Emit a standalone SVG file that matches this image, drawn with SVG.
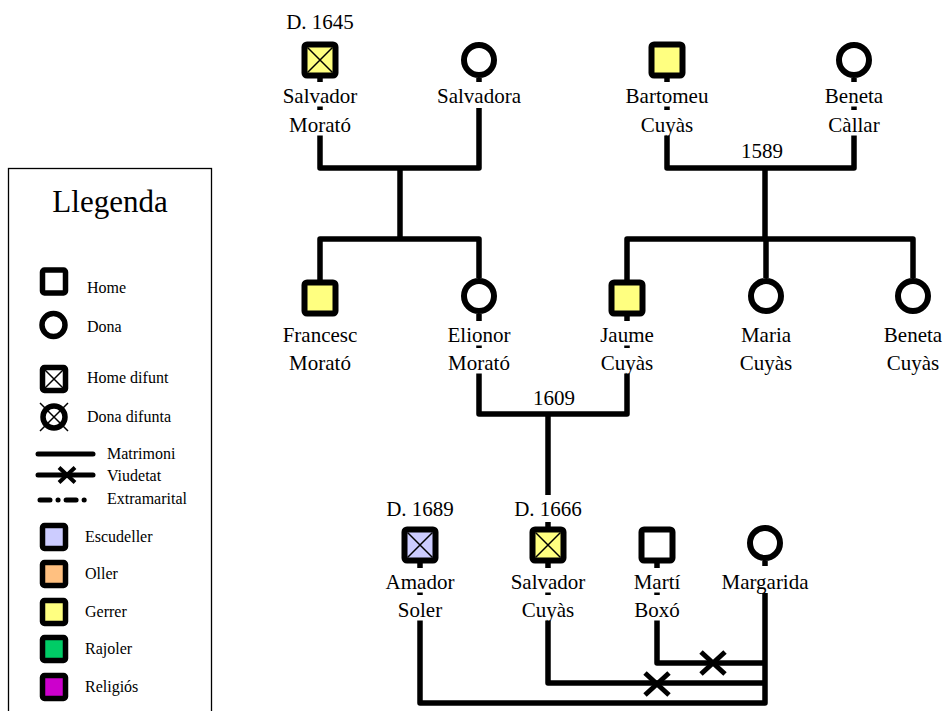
<svg xmlns="http://www.w3.org/2000/svg" width="949" height="711" viewBox="0 0 949 711">
<style>
.ln{fill:none;stroke:#000;stroke-width:5.5;stroke-linejoin:round}
.xm{stroke:#000;stroke-width:5;stroke-linecap:butt}
.sh{stroke:#000;stroke-width:6}
.lsh{stroke:#000;stroke-width:5.5}
.xt{stroke:#000;stroke-width:1.5}
.bg{fill:#fff}
.nm{font-family:"Liberation Serif","Times New Roman",serif;font-size:21px;text-anchor:middle;fill:#000}
.lg{font-family:"Liberation Serif","Times New Roman",serif;font-size:16px;fill:#000}
.y{fill:#FFFF80}
.w{fill:#fff}
.lav{fill:#CCCCFF}
</style>
<rect x="0" y="0" width="949" height="711" fill="#fff"/>

<g id="connectors">
<path class="ln" d="M320,78 V168 H479 V78"/>
<path class="ln" d="M400,168 V239"/>
<path class="ln" d="M320,280 V239 H479 V278"/>
<path class="ln" d="M667,78 V168 H854 V78"/>
<path class="ln" d="M765,168 V239"/>
<path class="ln" d="M627,280 V239 H913 V278"/>
<path class="ln" d="M766,239 V278"/>
<path class="ln" d="M479,314 V414 H627 V316"/>
<path class="ln" d="M548,414 V527"/>
<path class="ln" d="M420,563 V703 H765 V561"/>
<path class="ln" d="M548,563 V683 H765"/>
<path class="ln" d="M657,563 V663 H765"/>
<path class="xm" d="M701,652 L725,674 M725,652 L701,674"/>
<path class="xm" d="M645,673 L669,695 M669,673 L645,695"/>
<text class="nm" x="762" y="158">1589</text>
<text class="nm" x="554" y="405">1609</text>
</g>

<g id="salvador-morato">
<text class="nm" x="320" y="29">D. 1645</text>
<rect class="sh y" x="304.5" y="44.5" width="31" height="31" rx="2.5"/>
<path class="xt" d="M307.5,47.5 L332.5,72.5 M332.5,47.5 L307.5,72.5"/>
<rect class="bg" x="313" y="82" width="14" height="24.5"/>
<rect class="bg" x="313" y="110" width="14" height="25.5"/>
<text class="nm" x="320" y="103">Salvador</text>
<text class="nm" x="320" y="132">Morató</text>
</g>

<g id="salvadora">
<circle class="sh w" cx="479" cy="60" r="15"/>
<rect class="bg" x="472" y="82" width="14" height="26"/>
<text class="nm" x="479" y="103">Salvadora</text>
</g>

<g id="bartomeu-cuyas">
<rect class="sh y" x="651.5" y="44.5" width="31" height="31" rx="2.5"/>
<rect class="bg" x="660" y="82" width="14" height="24.5"/>
<rect class="bg" x="660" y="110" width="14" height="25.5"/>
<text class="nm" x="667" y="103">Bartomeu</text>
<text class="nm" x="667" y="132">Cuyàs</text>
</g>

<g id="beneta-callar">
<circle class="sh w" cx="854" cy="60" r="15"/>
<rect class="bg" x="847" y="82" width="14" height="24.5"/>
<rect class="bg" x="847" y="110" width="14" height="25.5"/>
<text class="nm" x="854" y="103">Beneta</text>
<text class="nm" x="854" y="132">Càllar</text>
</g>

<g id="francesc-morato">
<rect class="sh y" x="304.5" y="282.5" width="31" height="31" rx="2.5"/>
<text class="nm" x="320" y="342">Francesc</text>
<text class="nm" x="320" y="370">Morató</text>
</g>

<g id="elionor-morato">
<circle class="sh w" cx="479" cy="296" r="15"/>
<rect class="bg" x="472" y="321" width="14" height="24.5"/>
<rect class="bg" x="472" y="348" width="14" height="25.5"/>
<text class="nm" x="479" y="342">Elionor</text>
<text class="nm" x="479" y="370">Morató</text>
</g>

<g id="jaume-cuyas">
<rect class="sh y" x="611.5" y="282.5" width="31" height="31" rx="2.5"/>
<rect class="bg" x="620" y="321" width="14" height="24.5"/>
<rect class="bg" x="620" y="348" width="14" height="25.5"/>
<text class="nm" x="627" y="342">Jaume</text>
<text class="nm" x="627" y="370">Cuyàs</text>
</g>

<g id="maria-cuyas">
<circle class="sh w" cx="766" cy="296" r="15"/>
<text class="nm" x="766" y="342">Maria</text>
<text class="nm" x="766" y="370">Cuyàs</text>
</g>

<g id="beneta-cuyas">
<circle class="sh w" cx="913" cy="296" r="15"/>
<text class="nm" x="913" y="342">Beneta</text>
<text class="nm" x="913" y="370">Cuyàs</text>
</g>

<g id="amador-soler">
<text class="nm" x="420" y="516">D. 1689</text>
<rect class="sh lav" x="404.5" y="529.5" width="31" height="31" rx="2.5"/>
<path class="xt" d="M407.5,532.5 L432.5,557.5 M432.5,532.5 L407.5,557.5"/>
<rect class="bg" x="413" y="568" width="14" height="24.5"/>
<rect class="bg" x="413" y="595" width="14" height="25.5"/>
<text class="nm" x="420" y="589">Amador</text>
<text class="nm" x="420" y="617">Soler</text>
</g>

<g id="salvador-cuyas">
<rect class="bg" x="541" y="495" width="14" height="27"/>
<text class="nm" x="548" y="516">D. 1666</text>
<rect class="sh y" x="532.5" y="529.5" width="31" height="31" rx="2.5"/>
<path class="xt" d="M535.5,532.5 L560.5,557.5 M560.5,532.5 L535.5,557.5"/>
<rect class="bg" x="541" y="568" width="14" height="24.5"/>
<rect class="bg" x="541" y="595" width="14" height="25.5"/>
<text class="nm" x="548" y="589">Salvador</text>
<text class="nm" x="548" y="617">Cuyàs</text>
</g>

<g id="marti-boxo">
<rect class="sh w" x="641.5" y="529.5" width="31" height="31" rx="2.5"/>
<rect class="bg" x="650" y="568" width="14" height="24.5"/>
<rect class="bg" x="650" y="595" width="14" height="25.5"/>
<text class="nm" x="657" y="589">Martí</text>
<text class="nm" x="657" y="617">Boxó</text>
</g>

<g id="margarida">
<circle class="sh w" cx="765" cy="543" r="15"/>
<rect class="bg" x="758" y="566" width="14" height="27"/>
<text class="nm" x="765" y="589">Margarida</text>
</g>

<g id="legend">
<rect x="8.5" y="168.5" width="203" height="560" fill="#fff" stroke="#000" stroke-width="1.3"/>
<text class="nm" x="110" y="212" style="font-size:31px">Llegenda</text>
<rect class="lsh w" x="42.5" y="270" width="23" height="23" rx="2"/>
<text class="lg" x="87" y="293">Home</text>
<circle class="lsh w" cx="53.5" cy="325" r="11.5"/>
<text class="lg" x="87" y="332">Dona</text>
<rect class="lsh w" x="42.5" y="367.5" width="23" height="23" rx="2"/>
<path class="xt" d="M45,370 L63,388 M63,370 L45,388"/>
<text class="lg" x="87" y="383">Home difunt</text>
<circle class="lsh w" cx="54" cy="417" r="11"/>
<path class="xt" d="M40,403 L68,431 M68,403 L40,431"/>
<text class="lg" x="87" y="422">Dona difunta</text>
<path d="M38,454 H93" stroke="#000" stroke-width="5" stroke-linecap="round"/>
<text class="lg" x="107" y="459">Matrimoni</text>
<path d="M38,475 H93" stroke="#000" stroke-width="5" stroke-linecap="round"/>
<path d="M59,467.5 L75,482.5 M75,467.5 L59,482.5" stroke="#000" stroke-width="4"/>
<text class="lg" x="107" y="481">Viudetat</text>
<path d="M40,500 H92" stroke="#000" stroke-width="5" stroke-linecap="round" stroke-dasharray="10 8 0.1 8"/>
<text class="lg" x="107" y="504">Extramarital</text>
<rect class="lsh" fill="#CCCCFF" x="42.5" y="525.5" width="23" height="23" rx="2"/>
<text class="lg" x="85" y="542">Escudeller</text>
<rect class="lsh" fill="#FFC080" x="42.5" y="562.5" width="23" height="23" rx="2"/>
<text class="lg" x="85" y="579">Oller</text>
<rect class="lsh" fill="#FFFF80" x="42.5" y="600.5" width="23" height="23" rx="2"/>
<text class="lg" x="85" y="617">Gerrer</text>
<rect class="lsh" fill="#00CC66" x="42.5" y="637.5" width="23" height="23" rx="2"/>
<text class="lg" x="85" y="654">Rajoler</text>
<rect class="lsh" fill="#CC00CC" x="42.5" y="675.5" width="23" height="23" rx="2"/>
<text class="lg" x="85" y="692">Religiós</text>
</g>
</svg>
